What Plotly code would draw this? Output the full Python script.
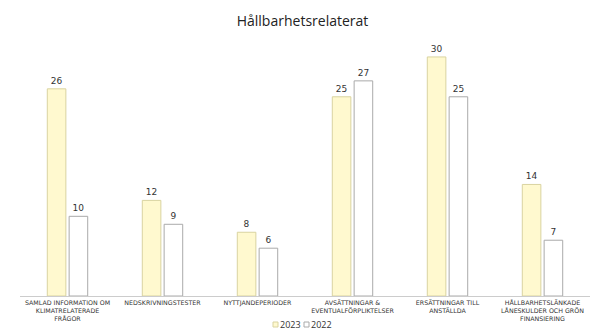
import plotly.graph_objects as go

categories = [
    "SAMLAD INFORMATION OM<br>KLIMATRELATERADE<br>FRÅGOR",
    "NEDSKRIVNINGSTESTER",
    "NYTTJANDEPERIODER",
    "AVSÄTTNINGAR &<br>EVENTUALFÖRPLIKTELSER",
    "ERSÄTTNINGAR TILL<br>ANSTÄLLDA",
    "HÅLLBARHETSLÄNKADE<br>LÅNESKULDER OCH GRÖN<br>FINANSIERING",
]
series_names = ["2023", "2022"]
values_2023 = [26, 12, 8, 25, 30, 14]
values_2022 = [10, 9, 6, 27, 25, 7]

fill_colors = ["#FFF9CF", "#FFFFFF"]
line_colors = ["#D9D3A0", "#AAAAAA"]

fig = go.Figure()
for name, vals, fc, lc in zip(series_names, [values_2023, values_2022], fill_colors, line_colors):
    fig.add_trace(go.Bar(
        name=name, x=categories, y=vals,
        text=vals, textposition="outside",
        marker=dict(color=fc, line=dict(color=lc, width=1)),
        textfont=dict(size=9, color="#333333"), cliponaxis=False,
        showlegend=False,
    ))

# compact custom legend (layout decoration)
H = 331 - 45 - 35  # plot height px
W = 605 - 20 - 15
legend_items = [(273, 279), (304, 310)]
shapes = []
annotations = []
ly = (296 - 324.5) / H
for (sx, tx), name, fc, lc in zip(legend_items, series_names, fill_colors, line_colors):
    x0 = (sx - 20) / W
    x1 = (sx + 5 - 20) / W
    shapes.append(dict(type="rect", xref="paper", yref="paper",
                       x0=x0, x1=x1, y0=ly - 2.5 / H, y1=ly + 2.5 / H,
                       fillcolor=fc, line=dict(color=lc, width=1)))
    annotations.append(dict(text=name, xref="paper", yref="paper",
                            x=(tx - 20) / W, y=ly, xanchor="left", yanchor="middle",
                            showarrow=False, borderpad=0,
                            font=dict(family="Open Sans", size=9, color="#333333")))

fig.update_layout(
    width=605, height=331,
    margin=dict(l=20, r=15, t=45, b=35, autoexpand=False),
    paper_bgcolor="white", plot_bgcolor="white",
    title=dict(text="Hållbarhetsrelaterat", x=0.5, xanchor="center", y=0.935, yanchor="middle",
               font=dict(family="Open Sans", size=14, color="#222222", weight=500)),
    barmode="group", bargap=0.54, bargroupgap=0.15,
    font=dict(family="DejaVu Sans", color="#333333"),
    showlegend=False,
    shapes=shapes, annotations=annotations,
    xaxis=dict(showline=True, linecolor="#CCCCCC", linewidth=1, ticks="",
               tickangle=0, tickfont=dict(size=6.3, color="#333333"), showgrid=False,
               automargin=False),
    yaxis=dict(range=[0, 31.5], visible=False, showgrid=False, automargin=False),
)

fig.write_html("out.html")
